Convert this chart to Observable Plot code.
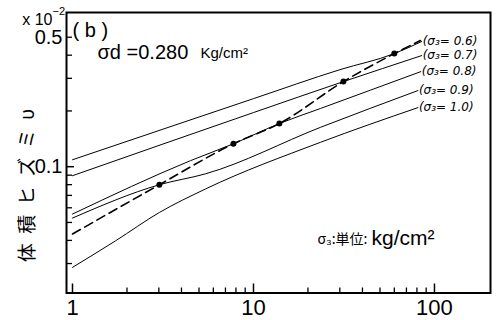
<!DOCTYPE html>
<html><head><meta charset="utf-8">
<script src="https://cdn.jsdelivr.net/npm/d3@7"></script>
<script src="https://cdn.jsdelivr.net/npm/@observablehq/plot@0.6"></script>
<style>
body{margin:0;background:#fff;}
#chart svg{display:block;}
</style></head><body><div id="chart"></div>
<script>
// σ3 series (kg/cm²)
const sigma3 = ["0.6", "0.7", "0.8", "0.9", "1.0"];
const x06 = [1, 10, 30, 60, 85];
const y06 = [0.109, 0.233, 0.334, 0.408, 0.474];
const x07 = [1, 10, 31.4, 85];
const y07 = [0.0894, 0.196, 0.288, 0.398];
const x08 = [1, 4.49, 7.75, 13.9, 23.4, 84];
const y08 = [0.0555, 0.1078, 0.133, 0.171, 0.206, 0.326];
const x09 = [1, 3.02, 5.43, 23.4, 81];
const y09 = [0.0528, 0.0799, 0.0915, 0.163, 0.2576];
const x10 = [1, 1.73, 3.02, 5.43, 23.4, 81];
const y10 = [0.0286, 0.0398, 0.0566, 0.0758, 0.1353, 0.2084];
// dashed line and its dots
const dashX = [1, 3.02, 7.75, 13.9, 31.4, 60, 83.7];
const dashY = [0.0433, 0.0799, 0.133, 0.171, 0.288, 0.408, 0.480];
const dotX = [3.02, 7.75, 13.9, 31.4, 60];
const dotY = [0.0799, 0.133, 0.171, 0.288, 0.408];
// ticks
const xTickLabels = [1, 10, 100];
const xMajorTicks = [1, 10, 100];
const xMinorTicks = [2, 3, 4, 5, 6, 7, 8, 9, 20, 30, 40, 50, 60, 70, 80, 90];
const yTickLabels = [0.1, 0.5];
const yMajorTicks = [0.1];
const yMinorTicks = [0.03, 0.04, 0.05, 0.06, 0.07, 0.08, 0.09, 0.2, 0.3, 0.4, 0.5];
// y-axis title and its anchor (in data units, left of the frame)
const yTitle = "体\u2002積\u2002ヒ\u2002ズ\u2002ミ\u2002υ";
const yTitleAt = {x: 0.57, y: 0.079};

const seriesX = [x06, x07, x08, x09, x10];
const seriesY = [y06, y07, y08, y09, y10];
const rows = sigma3.flatMap((s, k) => seriesX[k].map((x, i) => ({s, x, y: seriesY[k][i]})));
const dashRows = dashX.map((x, i) => ({x, y: dashY[i]}));
const dotRows = dotX.map((x, i) => ({x, y: dotY[i]}));

const W = 501, H = 320, mL = 66, mT = 12, mR = 11, mB = 27.5;
const innerW = W - mL - mR, innerH = H - mT - mB;
const sans = "Liberation Sans, Arial, sans-serif";
const cjk = "Noto Sans CJK JP, sans-serif";

const note = (t, o) => Plot.text([t], {text: d => d, frameAnchor: "top-left", textAnchor: "start", lineAnchor: "middle", fill: "black", ...o});

const chart = Plot.plot({
  width: W, height: H,
  marginLeft: mL, marginTop: mT, marginRight: mR, marginBottom: mB,
  x: {type: "log", domain: [0.9265, 204], label: null},
  y: {type: "log", domain: [0.0208, 0.68], label: null},
  style: {background: "#fff", color: "#000", fontFamily: sans},
  marks: [
    Plot.axisX(xTickLabels, {tickSize: 0, tickPadding: 6, fontSize: 22, tickFormat: d => String(d), label: null}),
    Plot.axisY(yTickLabels, {tickSize: 0, tickPadding: 4, fontSize: 20, tickFormat: d => String(d), label: null}),
    Plot.tickX(xMajorTicks, {x: d => d, insetTop: innerH - 9, strokeWidth: 1.5}),
    Plot.tickX(xMinorTicks, {x: d => d, insetTop: innerH - 5, strokeWidth: 1.3}),
    Plot.tickY(yMajorTicks, {y: d => d, insetRight: innerW - 8, strokeWidth: 1.5}),
    Plot.tickY(yMinorTicks, {y: d => d, insetRight: innerW - 6, strokeWidth: 1.3}),
    Plot.frame({strokeWidth: 2}),
    Plot.line(rows, {x: "x", y: "y", z: "s", curve: "monotone-x", stroke: "black", strokeWidth: 1}),
    Plot.line(dashRows, {x: "x", y: "y", curve: "monotone-x", stroke: "black", strokeWidth: 1.6, strokeDasharray: "9,5"}),
    Plot.dot(dotRows, {x: "x", y: "y", r: 3, fill: "black"}),
    Plot.text(rows, Plot.selectLast({x: "x", y: "y", z: "s", text: d => `(σ₃= ${d.s})`, dx: 1, textAnchor: "start", fontSize: 12, fontStyle: "italic", fontFamily: "DejaVu Sans, sans-serif", fill: "black"})),
    note("( b )", {dx: 6, dy: 18, fontSize: 20}),
    note("σd =0.280", {dx: 31, dy: 40, fontSize: 20}),
    note("Kg/cm²", {dx: 134, dy: 41, fontSize: 15}),
    note("σ₃:単位:", {dx: 251, dy: 227, fontSize: 14, fontFamily: cjk}),
    note("kg/cm²", {dx: 305, dy: 226, fontSize: 21}),
    note("x 10", {dx: -14, dy: 7, fontSize: 16, textAnchor: "end"}),
    note("−2", {dx: -14, dy: -1, fontSize: 11}),
    Plot.text([yTitle], {text: d => d, x: () => yTitleAt.x, y: () => yTitleAt.y, rotate: -90, fontSize: 19, fontFamily: cjk, fill: "black"})
  ]
});
document.getElementById("chart").append(chart);
</script></body></html>
